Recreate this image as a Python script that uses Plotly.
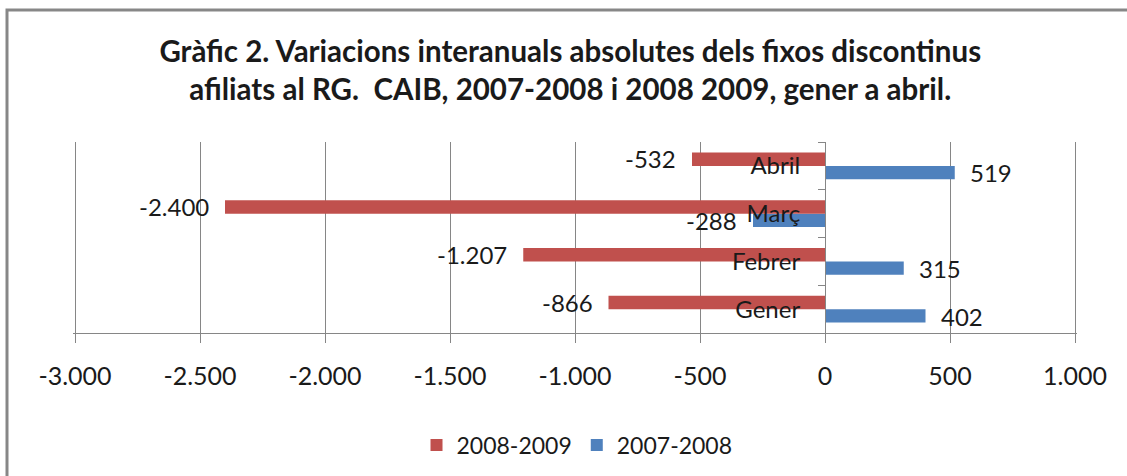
import plotly.graph_objects as go

categories = ["Gener", "Febrer", "Març", "Abril"]
series_2008_2009 = [-866, -1207, -2400, -532]
series_2007_2008 = [402, 315, -288, 519]
tick_values = [-3000, -2500, -2000, -1500, -1000, -500, 0, 500, 1000]
tick_labels = ["-3.000", "-2.500", "-2.000", "-1.500", "-1.000", "-500", "0", "500", "1.000"]

RED = "#C0504D"
BLUE = "#4F81BD"
GRID = "#868686"
FONT = "Lato"
TXT = "#1a1a1a"
FS = 24


def fmt(v):
    return f"{v:,}".replace(",", ".")


fig = go.Figure()
fig.add_trace(go.Bar(
    y=categories, x=series_2007_2008, orientation="h", name="2007-2008",
    marker=dict(color=BLUE, line=dict(width=0)),
))
fig.add_trace(go.Bar(
    y=categories, x=series_2008_2009, orientation="h", name="2008-2009",
    marker=dict(color=RED, line=dict(width=0)),
))

annotations = []
for cat, v in zip(categories, series_2008_2009):
    annotations.append(dict(
        x=v, y=cat, xref="x", yref="y", text=fmt(v), showarrow=False,
        xanchor="right" if v < 0 else "left", xshift=-14 if v < 0 else 13,
        yshift=7, font=dict(family=FONT, size=FS, color=TXT)))
for cat, v in zip(categories, series_2007_2008):
    annotations.append(dict(
        x=v, y=cat, xref="x", yref="y", text=fmt(v), showarrow=False,
        xanchor="right" if v < 0 else "left", xshift=-14 if v < 0 else 13,
        yshift=-7, font=dict(family=FONT, size=FS, color=TXT)))

L, R = 73, 50
fig.update_layout(
    width=1127, height=476,
    margin=dict(l=L, r=R, t=142, b=143, autoexpand=False),
    paper_bgcolor="white", plot_bgcolor="white",
    barmode="group", bargap=0.44, bargroupgap=0,
    title=dict(
        text="Gràfic 2. Variacions interanuals absolutes dels fixos discontinus<br>"
             "afiliats al RG.  CAIB, 2007-2008 i 2008 2009, gener a abril.",
        x=0.506, xanchor="center", y=1 - 62 / 476, yanchor="top",
        font=dict(family=FONT, size=29.5, color=TXT, weight="bold"),
    ),
    xaxis=dict(
        range=[-3008, 1008], tickvals=tick_values, ticktext=tick_labels,
        showgrid=True, gridcolor=GRID, gridwidth=1, zeroline=False,
        showline=True, linecolor=GRID, linewidth=1,
        ticks="outside", ticklen=9, tickcolor=GRID, ticklabelstandoff=12,
        tickfont=dict(family=FONT, size=25, color=TXT), fixedrange=True,
    ),
    yaxis=dict(
        type="category", categoryorder="array", categoryarray=categories,
        anchor="free", position=3008 / 4016, side="left",
        showgrid=False, zeroline=False, showline=True, linecolor=GRID, linewidth=1,
        ticks="outside", tickson="boundaries", ticklen=7, tickcolor=GRID,
        ticklabelstandoff=20,
        tickfont=dict(family=FONT, size=FS, color=TXT), fixedrange=True,
    ),
    legend=dict(
        orientation="h", traceorder="reversed", x=0.502, xanchor="center",
        y=-0.586, yanchor="middle", font=dict(family=FONT, size=23, color=TXT),
        bgcolor="rgba(0,0,0,0)",
    ),
    annotations=annotations,
    shapes=[dict(
        type="rect", xref="paper", yref="paper",
        x0=(7 - L) / 1004, x1=1.06, y0=-0.8, y1=(333 - 10) / 191,
        line=dict(color="#878787", width=3), fillcolor="rgba(0,0,0,0)", layer="below",
    )],
)

fig.write_html(
    "out.html",
    config={"displayModeBar": False},
    post_script="document.body.style.margin='0';document.body.style.overflow='hidden';",
)
